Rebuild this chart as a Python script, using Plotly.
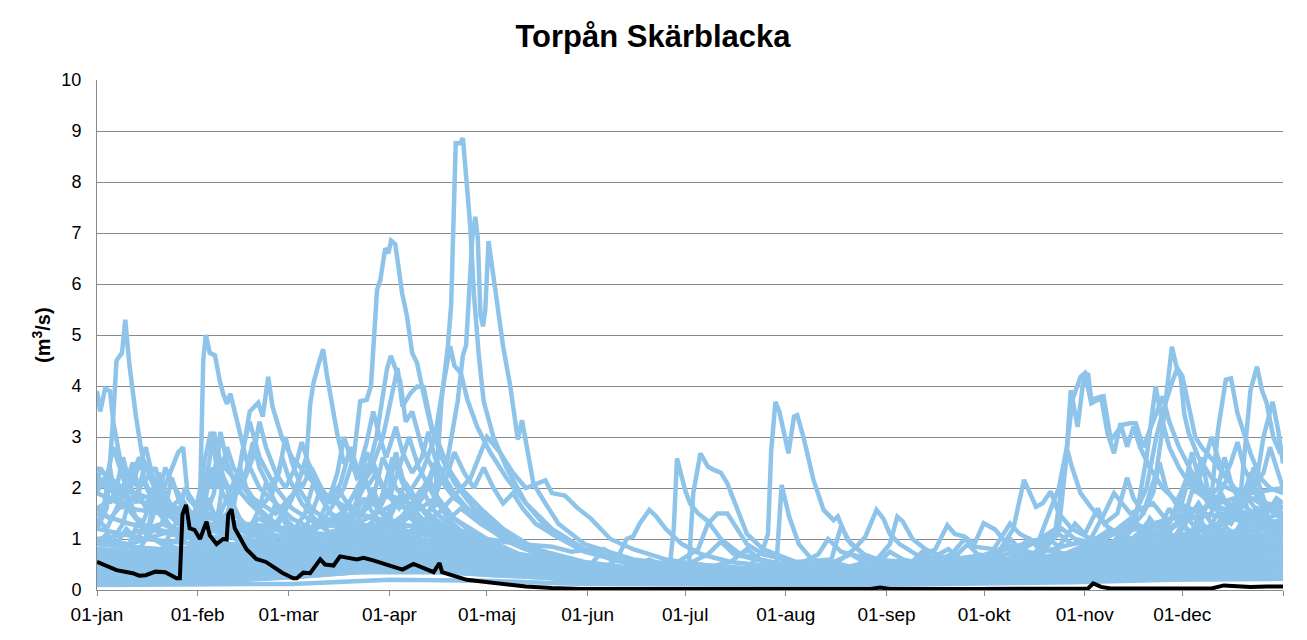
import plotly.graph_objects as go

# ---------------- data (day of year, discharge m3/s) ----------------
month_ticks = [0, 31, 59, 90, 120, 151, 181, 212, 243, 273, 304, 334]
month_labels = ["01-jan", "01-feb", "01-mar", "01-apr", "01-maj", "01-jun",
                "01-jul", "01-aug", "01-sep", "01-okt", "01-nov", "01-dec"]
year_end = [365]

s01 = [(0,1.2),(3,1.6),(5,3.4),(6,4.5),(7.7,4.65),(8.7,5.3),(10,4.4),(12,3.4),(14,2.6),(17,2.1),(21,1.6),(26,1.3),(33,1.1),(40,0.9),(50,0.8),(60,0.7),(70,0.9),(80,1.2),(90,1.0),(100,0.8),(115,0.6),(130,0.4),(150,0.3),(180,0.2),(210,0.2),(240,0.25),(270,0.3),(300,0.5),(330,0.7),(365,0.8)]
s02 = [(0,3.9),(1,3.5),(2.5,3.95),(4,3.9),(5,3.3),(7,2.6),(9,2.2),(12,1.8),(15,2.5),(17,2.2),(20,1.6),(25,1.3),(30,1.1),(40,1.0),(50,1.4),(55,1.2),(65,0.9),(80,0.8),(95,1.5),(100,1.2),(110,0.8),(130,0.5),(150,0.35),(180,0.25),(210,0.3),(240,0.3),(270,0.4),(300,0.9),(320,1.2),(340,1.6),(355,1.9),(365,2.0)]
s03 = [(0,0.6),(10,0.5),(20,0.5),(28,0.7),(31,1.5),(31.8,2.0),(32.7,4.5),(33.5,5.0),(34.7,4.65),(36.3,4.6),(37.8,4.1),(38.8,3.85),(40,3.65),(41,3.85),(42,3.6),(44,3.07),(46,2.55),(50,2.0),(55,1.7),(60,1.4),(66,1.2),(72,1.4),(80,1.1),(90,0.9),(100,0.7),(115,0.55),(130,0.4),(160,0.25),(190,0.2),(220,0.25),(250,0.3),(280,0.35),(310,0.5),(340,0.6),(365,0.7)]
s04 = [(0,1.0),(10,0.9),(20,1.1),(30,1.3),(38,1.5),(44,2.4),(47,3.5),(49.6,3.67),(51,3.4),(52.7,4.18),(54,3.6),(57,2.97),(60,2.6),(64,2.3),(68,2.0),(72,1.8),(80,1.5),(90,1.3),(100,1.0),(110,0.8),(125,0.5),(140,0.35),(170,0.25),(200,0.2),(230,0.2),(260,0.25),(290,0.4),(320,0.8),(345,1.0),(365,1.1)]
s05 = [(0,0.5),(15,0.4),(30,0.5),(45,0.8),(55,1.2),(60,1.8),(63,2.3),(64.5,2.63),(65.6,3.64),(66.6,4.05),(68,4.39),(69.6,4.72),(70.8,4.2),(73.9,3.07),(76,2.48),(78,2.61),(80,2.2),(85,2.5),(88,2.0),(95,1.6),(100,1.3),(110,1.0),(120,0.7),(135,0.45),(160,0.3),(190,0.25),(220,0.3),(250,0.35),(280,0.4),(310,0.6),(340,0.8),(365,0.9)]
s06 = [(0,0.9),(15,0.8),(30,0.7),(45,0.8),(60,1.0),(70,1.4),(76,2.0),(79,2.6),(81,3.7),(83,3.73),(84.3,4.0),(86.2,5.89),(87.2,6.08),(88.7,6.7),(89.7,6.6),(90.5,6.85),(91.8,6.78),(93.9,5.82),(95.4,5.37),(97,4.65),(98.5,4.45),(100,3.99),(101.6,3.54),(103,3.14),(104.7,2.95),(108,2.4),(112,2.0),(118,1.6),(125,1.2),(135,0.8),(150,0.5),(170,0.35),(200,0.25),(230,0.3),(260,0.35),(290,0.5),(320,0.7),(345,0.9),(365,1.0)]
s07 = [(0,0.3),(20,0.3),(40,0.4),(60,0.7),(75,1.1),(82,2.0),(86,3.0),(89.2,4.32),(90.4,4.59),(92.3,4.3),(93.3,4.1),(95,3.3),(97,3.5),(100,2.8),(104,2.3),(110,1.8),(118,1.4),(125,1.1),(135,0.8),(150,0.5),(175,0.3),(200,0.2),(230,0.15),(260,0.2),(290,0.25),(320,0.4),(345,0.5),(365,0.55)]
s08 = [(0,0.4),(20,0.35),(40,0.5),(60,0.9),(75,1.5),(84,2.3),(88,3.0),(91,3.9),(92.5,4.35),(94,3.6),(96.5,3.86),(98.5,3.99),(100.5,3.98),(103,3.2),(106,2.6),(110,2.1),(116,1.6),(124,1.2),(135,0.8),(150,0.55),(175,0.35),(200,0.3),(230,0.25),(260,0.3),(290,0.4),(320,0.6),(345,0.7),(365,0.8)]
s09 = [(0,0.2),(20,0.2),(40,0.25),(60,0.3),(75,0.5),(90,0.8),(100,1.2),(104,1.8),(106,3.7),(108,4.8),(109,5.6),(110.4,8.76),(111.8,8.76),(112.6,8.86),(113.8,7.97),(114.9,7.1),(116,5.8),(117.5,4.6),(119,3.7),(122,3.0),(126,2.4),(132,1.7),(140,1.1),(150,0.75),(165,0.5),(185,0.35),(210,0.3),(240,0.3),(270,0.35),(300,0.4),(330,0.5),(365,0.6)]
s10 = [(0,0.5),(20,0.45),(40,0.5),(60,0.6),(80,0.9),(95,1.4),(104,1.8),(108,2.6),(111,3.7),(112.6,4.6),(113.6,4.8),(115.5,6.9),(116.4,7.32),(117.2,6.9),(118,5.4),(118.8,5.17),(119.5,5.5),(120.5,6.84),(123,5.69),(125,4.77),(127.2,3.99),(129.5,2.95),(130.8,3.33),(132,2.94),(134.3,2.09),(137.4,1.76),(142,1.3),(150,0.9),(165,0.6),(185,0.45),(210,0.4),(240,0.35),(270,0.4),(300,0.6),(330,0.7),(365,0.8)]
s11 = [(0,0.7),(20,0.6),(40,0.7),(60,0.9),(80,1.3),(95,1.8),(100,2.3),(104,3.0),(106,3.8),(108.7,4.78),(110,4.4),(112,4.25),(114,3.73),(117,3.2),(121,2.7),(126,2.2),(132,1.7),(140,1.2),(150,0.8),(165,0.5),(190,0.35),(220,0.3),(250,0.3),(280,0.4),(310,0.6),(340,0.8),(365,0.9)]
s12 = [(0,0.3),(30,0.3),(60,0.5),(90,0.9),(105,1.5),(115,2.2),(120,3.0),(124,2.7),(128,2.3),(132,2.0),(136,2.1),(138,2.15),(140,1.9),(144,1.85),(148,1.6),(152,1.4),(158,1.0),(165,0.8),(175,0.6),(190,0.45),(210,0.4),(240,0.4),(270,0.45),(300,0.5),(330,0.6),(365,0.7)]
s13 = [(0,0.4),(30,0.35),(60,0.5),(90,0.8),(110,0.7),(130,0.45),(150,0.3),(165,0.25),(176,0.3),(177.5,1.2),(178.5,2.58),(181,1.96),(182.5,1.7),(185,1.5),(188,1.35),(192,1.0),(198,0.7),(210,0.5),(230,0.4),(250,0.4),(270,0.45),(300,0.7),(330,0.9),(365,1.0)]
s14 = [(0,0.8),(20,0.7),(40,0.8),(60,1.1),(80,1.5),(100,1.2),(120,0.8),(140,0.5),(155,0.4),(160,0.6),(163,1.0),(165,1.05),(167,1.3),(170,1.57),(172,1.45),(175,1.2),(180,0.9),(186,0.7),(195,0.55),(210,0.45),(230,0.4),(250,0.45),(280,0.5),(310,0.7),(340,1.0),(365,1.1)]
s15 = [(0,0.25),(30,0.25),(60,0.35),(90,0.6),(110,0.5),(130,0.35),(150,0.25),(170,0.2),(182,0.3),(183.5,1.9),(185.7,2.68),(188,2.42),(190,2.35),(192,2.3),(194,2.09),(197,1.6),(200,1.1),(205,0.8),(215,0.55),(230,0.4),(250,0.35),(270,0.4),(300,0.5),(330,0.6),(365,0.6)]
s16 = [(0,0.35),(30,0.3),(60,0.4),(90,0.6),(110,0.5),(130,0.35),(150,0.25),(170,0.2),(190,0.25),(200,0.4),(205,0.8),(206.5,1.1),(207.5,2.74),(208.8,3.69),(210,3.5),(211.5,3.0),(212.8,2.68),(214.5,3.4),(215.5,3.43),(217.4,3.0),(220.5,2.16),(223.6,1.57),(226.7,1.37),(228,1.44),(231,0.98),(236,0.7),(245,0.5),(260,0.4),(280,0.45),(300,0.6),(330,0.7),(365,0.8)]
s17 = [(0,0.15),(30,0.15),(60,0.25),(90,0.4),(120,0.3),(150,0.2),(180,0.15),(200,0.2),(209,0.4),(210.7,2.06),(213,1.44),(216,0.9),(220,0.6),(230,0.4),(250,0.3),(270,0.3),(300,0.4),(330,0.5),(365,0.5)]
s18 = [(0,0.6),(30,0.5),(60,0.6),(90,0.7),(120,0.6),(150,0.45),(175,0.4),(185,0.8),(188,1.3),(191,1.5),(194,1.5),(197,1.2),(200,0.9),(205,0.7),(215,0.55),(226,0.6),(229,1.25),(232,0.9),(238,0.6),(250,0.5),(275,0.5),(300,0.6),(330,0.7),(365,0.75)]
s19 = [(0,0.3),(40,0.3),(80,0.5),(110,0.5),(140,0.35),(170,0.25),(200,0.25),(225,0.4),(233,0.8),(236.5,1.05),(239.9,1.57),(242,1.4),(244,1.1),(247,0.9),(252,0.7),(260,0.55),(275,0.45),(295,0.5),(320,0.6),(345,0.7),(365,0.75)]
s20 = [(0,0.5),(40,0.4),(80,0.6),(110,0.55),(140,0.4),(170,0.3),(200,0.3),(225,0.35),(240,0.6),(244,0.9),(246.3,1.44),(248,1.34),(251,1.0),(255,0.8),(262,0.6),(270,0.5),(285,0.55),(300,0.7),(320,0.9),(345,1.1),(365,1.2)]
s21 = [(0,0.2),(40,0.2),(80,0.35),(110,0.35),(140,0.25),(170,0.2),(200,0.2),(230,0.3),(250,0.5),(258,0.8),(261.7,1.27),(264,1.1),(267,1.05),(270,0.9),(272.9,1.31),(276.5,1.18),(280,0.9),(286,0.7),(295,0.6),(310,0.7),(330,0.8),(365,0.9)]
s22 = [(0,0.7),(30,0.6),(60,0.8),(90,1.0),(120,0.7),(150,0.45),(180,0.35),(210,0.3),(240,0.4),(265,0.5),(278,0.8),(282,1.2),(285.3,2.16),(287,1.9),(289,1.63),(291,1.7),(293.5,1.93),(296,1.5),(300,1.2),(306,1.0),(315,0.9),(330,0.9),(345,1.0),(365,1.1)]
s23 = [(0,1.9),(10,1.6),(20,1.5),(35,1.3),(50,1.1),(70,1.0),(90,1.1),(110,0.9),(130,0.6),(160,0.4),(190,0.35),(220,0.4),(250,0.5),(275,0.7),(290,1.0),(296,2.0),(298.5,2.8),(299.7,3.92),(301.8,3.2),(303.7,4.18),(305,4.25),(306,3.73),(309,3.79),(311,3.07),(313,2.68),(315,3.27),(317,2.81),(319,3.2),(321,2.8),(324,2.4),(328,2.0),(333,1.7),(340,1.5),(350,1.4),(365,1.3)]
s24 = [(0,0.6),(20,0.5),(40,0.6),(60,0.8),(80,1.0),(100,0.8),(130,0.5),(160,0.35),(190,0.3),(220,0.3),(250,0.4),(280,0.6),(295,1.2),(298,2.5),(300.2,3.73),(302.7,4.18),(304,4.25),(306,3.66),(309.8,3.79),(312,2.94),(315.6,3.24),(318,3.27),(319.7,3.27),(322,2.8),(326,3.5),(328,3.8),(330,3.3),(333,2.8),(337,2.3),(342,1.9),(350,1.6),(358,1.4),(365,1.3)]
s25 = [(0,0.4),(30,0.4),(60,0.5),(90,0.7),(120,0.5),(150,0.35),(180,0.25),(210,0.25),(240,0.3),(270,0.4),(290,0.6),(296,1.2),(298.6,2.75),(300,2.42),(302.7,1.9),(305.8,1.63),(311,1.24),(316,1.0),(320,1.3),(325,1.1),(332,0.9),(340,0.85),(350,0.8),(365,0.8)]
s26 = [(0,1.5),(10,1.3),(25,1.1),(40,0.9),(60,0.8),(80,1.0),(100,0.9),(120,0.6),(150,0.4),(180,0.3),(210,0.3),(240,0.35),(270,0.45),(300,0.7),(315,1.0),(322,1.5),(326,2.3),(328,3.2),(329.5,4.05),(330.8,4.77),(332.5,4.31),(333.5,4.18),(334.6,3.46),(336,3.07),(339,2.6),(343,2.2),(348,2.0),(355,1.8),(365,1.6)]
s27 = [(0,1.2),(15,1.0),(30,0.9),(50,0.8),(70,0.9),(90,1.0),(110,0.8),(130,0.5),(160,0.35),(190,0.3),(220,0.3),(250,0.35),(280,0.5),(305,0.8),(318,1.3),(323,2.0),(326,3.0),(328,3.5),(331,4.1),(332.5,4.35),(334,4.2),(336,3.6),(338,3.0),(340,2.8),(344,2.5),(350,2.0),(358,1.7),(365,1.5)]
s28 = [(0,0.8),(20,0.7),(40,0.6),(60,0.7),(80,0.9),(100,0.8),(120,0.55),(150,0.4),(180,0.3),(210,0.3),(240,0.35),(270,0.4),(300,0.6),(315,0.9),(320,1.5),(323,2.6),(325.8,3.99),(327.5,3.4),(330,2.8),(333,2.4),(337,2.0),(343,1.7),(350,1.5),(365,1.3)]
s29 = [(0,2.1),(10,1.8),(20,1.6),(35,1.4),(50,1.2),(70,1.1),(90,1.2),(110,1.0),(130,0.7),(160,0.45),(190,0.35),(220,0.35),(250,0.4),(280,0.55),(310,0.8),(330,1.2),(340,1.5),(343,1.83),(345,3.14),(347.4,4.12),(349,4.15),(351,3.46),(355,2.68),(358,2.2),(361,2.0),(365,1.9)]
s30 = [(0,2.4),(8,2.0),(16,1.8),(30,1.5),(45,1.3),(60,1.2),(80,1.3),(100,1.1),(120,0.8),(150,0.5),(180,0.35),(210,0.35),(240,0.4),(270,0.5),(300,0.7),(320,0.9),(335,1.1),(345,1.3),(352,1.9),(355,3.92),(357,4.38),(358.5,3.92),(360,3.66),(362,3.0),(364,2.7),(365,2.7)]
s31 = [(0,0.9),(20,0.8),(40,0.8),(60,0.9),(80,1.0),(100,0.9),(130,0.55),(160,0.35),(190,0.3),(220,0.3),(250,0.35),(280,0.45),(310,0.6),(330,0.9),(345,1.3),(352,1.6),(357,2.2),(359,3.0),(361.8,3.69),(363.5,3.14),(365,2.48)]
s32 = [(0,2.1),(4,2.0),(8,1.6),(12,2.3),(15,2.8),(18,2.0),(22,1.6),(26,1.8),(30,1.4),(35,1.2),(40,1.3),(45,1.0),(55,0.9),(65,1.1),(75,0.9),(85,1.8),(88,2.6),(92,2.0),(100,1.4),(110,1.0),(125,0.6),(145,0.4),(170,0.3),(200,0.25),(230,0.3),(260,0.35),(290,0.5),(320,0.7),(340,0.9),(365,1.1)]
s33 = [(0,1.6),(5,1.8),(10,2.2),(13,2.0),(18,2.4),(20,1.9),(25,2.7),(26.5,2.8),(28,1.8),(32,1.5),(36,3.1),(38,2.5),(42,2.2),(48,1.8),(55,1.5),(62,2.0),(66,1.6),(72,1.3),(80,1.1),(90,1.4),(95,2.1),(100,1.6),(108,1.2),(120,0.8),(135,0.55),(155,0.35),(180,0.25),(210,0.2),(240,0.25),(270,0.3),(300,0.45),(330,0.55),(365,0.6)]
s34 = [(0,0.3),(10,0.35),(20,0.4),(30,0.6),(33,2.5),(35,3.1),(36,2.7),(38,2.0),(41,1.6),(45,1.3),(50,1.1),(55,1.3),(58,1.1),(62,0.9),(70,0.8),(78,1.3),(82,1.8),(85,1.5),(90,1.1),(100,0.9),(110,0.7),(125,0.45),(150,0.3),(180,0.2),(210,0.18),(240,0.2),(270,0.25),(300,0.3),(330,0.4),(365,0.45)]
s35 = [(0,0.7),(10,0.6),(20,0.8),(25,1.4),(27,2.0),(30,1.7),(34,1.3),(40,1.0),(45,2.8),(47,3.3),(50,2.6),(55,2.0),(60,1.6),(65,1.4),(70,1.2),(76,1.5),(80,2.0),(84,2.5),(88,2.0),(95,1.6),(100,1.8),(104,2.5),(108,2.0),(115,1.5),(125,1.0),(140,0.6),(160,0.4),(190,0.3),(220,0.3),(250,0.35),(280,0.4),(310,0.6),(340,0.7),(365,0.8)]
s36 = [(0,0.4),(10,0.5),(15,1.0),(18,1.6),(21,2.4),(24,2.0),(30,1.4),(40,1.1),(50,0.9),(60,0.8),(70,0.7),(75,0.9),(79,1.5),(83,2.7),(86,2.2),(90,1.8),(96,3.0),(99,2.4),(104,1.8),(110,1.4),(120,1.0),(130,0.7),(145,0.45),(165,0.3),(190,0.22),(220,0.2),(250,0.22),(280,0.3),(310,0.4),(340,0.5),(365,0.55)]
s37 = [(0,0.15),(20,0.15),(40,0.2),(60,0.25),(80,0.35),(100,0.4),(120,0.3),(150,0.2),(180,0.15),(210,0.12),(240,0.12),(270,0.15),(300,0.2),(330,0.25),(365,0.3)]
s38 = [(0,0.25),(15,0.22),(30,0.3),(50,0.4),(70,0.5),(85,0.7),(100,0.6),(115,0.45),(135,0.3),(160,0.2),(190,0.18),(220,0.15),(250,0.2),(280,0.22),(310,0.3),(340,0.35),(365,0.4)]
s39 = [(0,1.0),(10,1.1),(20,1.3),(30,1.0),(40,1.5),(44,2.2),(48,1.7),(55,1.3),(60,1.8),(64,2.5),(68,1.9),(72,1.5),(80,1.2),(90,1.0),(105,1.2),(112,1.6),(118,1.3),(128,0.9),(140,0.6),(160,0.4),(185,0.3),(215,0.25),(245,0.3),(275,0.35),(305,0.5),(335,0.7),(365,0.85)]
s40 = [(0,0.5),(20,0.45),(40,0.5),(60,0.6),(80,0.8),(100,0.7),(120,0.5),(150,0.35),(180,0.25),(210,0.25),(240,0.3),(270,0.4),(290,0.5),(305,0.9),(310,1.5),(313,1.9),(318,1.5),(325,1.7),(330,1.3),(336,2.3),(339,2.0),(343,1.6),(348,2.2),(352,1.7),(358,1.4),(365,1.2)]
s41 = [(0,0.3),(30,0.25),(60,0.35),(90,0.5),(120,0.4),(150,0.25),(180,0.2),(210,0.2),(240,0.25),(270,0.3),(300,0.5),(315,0.8),(322,1.2),(328,1.0),(335,1.5),(340,2.6),(342,1.9),(347,1.4),(353,1.8),(356,2.4),(360,1.6),(365,1.4)]
s42 = [(0,0.1),(30,0.1),(60,0.12),(90,0.2),(120,0.18),(150,0.12),(180,0.1),(210,0.1),(240,0.1),(270,0.12),(300,0.15),(330,0.2),(365,0.22)]
s43 = [(0,1.9),(2,2.2),(4,1.7),(6,2.0),(8,2.6),(10,2.1),(12,1.7),(14,2.2),(16,1.9),(19,1.5),(22,1.3),(25,1.1),(28,1.2),(32,1.0),(36,0.9),(40,1.1),(45,0.9),(52,0.8),(60,0.7),(68,0.9),(75,1.2),(80,1.0),(88,1.3),(92,1.8),(96,1.5),(102,1.1),(110,0.8),(122,0.55),(140,0.35),(165,0.25),(195,0.2),(225,0.2),(255,0.22),(285,0.3),(300,0.45),(310,0.7),(316,1.1),(320,0.9),(326,1.3),(331,1.0),(338,1.6),(341,1.2),(348,1.0),(355,1.3),(365,1.1)]
s44 = [(0,1.4),(3,1.2),(6,1.6),(9,2.0),(11,1.5),(14,1.3),(17,1.8),(19,2.3),(21,1.9),(24,1.5),(27,1.2),(30,1.0),(33,1.4),(36,1.9),(38,3.1),(40,2.5),(43,2.0),(47,1.7),(52,1.4),(56,1.2),(62,1.0),(68,1.3),(72,1.9),(75,1.6),(80,1.3),(86,1.1),(90,1.5),(94,1.9),(98,1.4),(105,1.0),(115,0.7),(130,0.45),(150,0.3),(175,0.22),(200,0.2),(230,0.18),(260,0.2),(290,0.3),(310,0.5),(320,0.8),(324,1.4),(328,1.1),(333,1.7),(337,1.3),(343,1.1),(350,1.5),(354,1.2),(360,1.0),(365,0.9)]
s45 = [(0,1.0),(4,0.9),(8,1.3),(10,1.8),(12,1.4),(16,1.1),(20,1.3),(23,2.2),(25,1.8),(28,1.4),(31,1.2),(35,1.5),(38,1.2),(42,1.6),(44,2.4),(46,2.0),(50,1.6),(54,1.9),(57,2.6),(59,2.2),(63,1.7),(67,1.4),(72,1.1),(78,0.9),(84,1.2),(88,1.9),(91,2.6),(94,2.1),(98,1.7),(102,2.2),(105,1.8),(110,1.4),(118,1.0),(128,0.7),(140,0.45),(160,0.3),(185,0.22),(215,0.2),(245,0.25),(275,0.3),(300,0.4),(320,0.55),(335,0.8),(345,1.2),(350,1.0),(358,1.3),(365,1.2)]
s46 = [(0,0.8),(5,0.7),(10,0.9),(13,1.4),(15,1.1),(20,0.9),(26,0.8),(32,0.9),(34,1.8),(36,1.5),(40,1.2),(46,1.0),(52,1.2),(55,1.7),(58,1.3),(65,1.0),(72,0.9),(78,1.1),(82,1.6),(85,2.0),(87,1.6),(92,1.3),(97,1.7),(100,2.0),(103,1.6),(108,1.3),(114,1.0),(124,0.7),(135,0.5),(150,0.35),(170,0.25),(200,0.2),(230,0.2),(260,0.25),(290,0.3),(305,0.5),(312,0.8),(318,0.7),(325,0.9),(333,1.1),(340,0.9),(347,1.2),(352,2.0),(354,1.6),(360,1.3),(365,1.2)]
s47 = [(0,0.6),(6,0.55),(12,0.5),(18,0.6),(24,0.5),(30,0.45),(36,0.6),(42,0.55),(50,0.6),(58,0.7),(66,0.8),(74,0.9),(82,1.0),(90,0.9),(98,0.8),(108,0.65),(120,0.5),(135,0.35),(150,0.25),(170,0.18),(190,0.15),(210,0.14),(230,0.15),(250,0.18),(270,0.2),(290,0.25),(310,0.3),(330,0.35),(350,0.4),(365,0.45)]
s48 = [(0,0.35),(8,0.3),(16,0.28),(24,0.3),(32,0.35),(40,0.3),(50,0.35),(60,0.45),(70,0.6),(80,0.75),(88,0.9),(95,0.8),(105,0.6),(115,0.45),(130,0.3),(145,0.2),(165,0.15),(190,0.12),(215,0.12),(240,0.14),(265,0.16),(290,0.2),(315,0.25),(340,0.3),(365,0.32)]
s49 = [(0,0.2),(10,0.18),(20,0.2),(30,0.22),(45,0.25),(60,0.3),(75,0.4),(90,0.5),(105,0.45),(120,0.35),(140,0.25),(160,0.18),(185,0.14),(210,0.13),(240,0.13),(270,0.15),(300,0.18),(330,0.22),(365,0.25)]
s50 = [(0,0.45),(20,0.4),(40,0.45),(60,0.55),(80,0.7),(100,0.65),(120,0.5),(140,0.35),(155,0.3),(165,0.45),(170,0.6),(175,0.45),(185,0.4),(195,0.55),(200,0.8),(204,0.6),(215,0.45),(225,0.5),(232,0.7),(236,0.55),(248,0.45),(256,0.6),(262,0.8),(266,0.6),(275,0.55),(283,0.8),(287,1.0),(290,0.8),(298,0.7),(305,0.9),(312,1.2),(316,1.0),(325,0.9),(335,1.1),(345,1.0),(355,0.9),(365,0.9)]
s51 = [(0,0.3),(20,0.3),(40,0.35),(60,0.4),(80,0.5),(100,0.55),(120,0.4),(140,0.3),(155,0.25),(162,0.4),(168,0.35),(178,0.3),(186,0.5),(190,0.4),(200,0.35),(210,0.3),(220,0.4),(226,0.55),(232,0.45),(240,0.4),(250,0.5),(254,0.75),(258,0.6),(268,0.5),(278,0.7),(281,1.0),(284,0.8),(292,0.65),(300,0.6),(308,0.8),(314,0.7),(322,0.75),(330,0.9),(338,0.8),(346,0.95),(356,0.85),(365,0.8)]
s52 = [(0,0.55),(20,0.5),(40,0.55),(60,0.65),(80,0.8),(100,0.75),(120,0.6),(140,0.45),(152,0.5),(156,0.8),(160,0.65),(170,0.5),(180,0.45),(188,0.7),(192,0.95),(196,0.7),(206,0.55),(216,0.5),(222,0.7),(225,1.0),(229,0.75),(238,0.6),(250,0.55),(264,0.65),(268,0.9),(271,0.7),(280,0.6),(290,0.75),(296,1.1),(300,0.9),(310,1.0),(318,1.4),(322,1.1),(330,1.2),(336,1.5),(342,1.2),(350,1.4),(358,1.2),(365,1.1)]
s53 = [(0,0.25),(30,0.25),(60,0.3),(90,0.45),(120,0.35),(150,0.25),(180,0.2),(210,0.25),(230,0.3),(240,0.5),(244,0.75),(248,0.6),(255,0.5),(263,0.7),(267,1.0),(270,0.85),(276,0.8),(281,1.3),(284,1.1),(290,0.9),(297,1.2),(301,1.0),(308,0.9),(316,0.85),(325,0.8),(340,0.75),(355,0.7),(365,0.7)]
s54 = [(0,0.6),(20,0.6),(40,0.7),(60,0.9),(80,1.1),(100,1.3),(110,1.2),(120,1.0),(130,0.9),(140,0.85),(146,0.75),(152,0.8),(158,0.6),(165,0.5),(175,0.45),(185,0.5),(195,0.45),(205,0.4),(220,0.35),(240,0.35),(260,0.4),(280,0.45),(300,0.55),(320,0.7),(340,0.8),(365,0.85)]
s55 = [(0,1.3),(2,1.6),(4,2.4),(5,2.0),(7,1.7),(9,2.1),(11,2.5),(13,1.9),(15,1.6),(17,2.0),(19,1.7),(21,1.4),(24,1.6),(27,1.3),(30,1.5),(33,2.3),(35,2.0),(37,2.6),(39,2.2),(42,1.8),(45,2.1),(48,2.9),(50,2.4),(53,2.0),(56,2.3),(58,3.0),(60,2.5),(63,2.0),(66,2.4),(69,2.0),(72,1.7),(75,2.1),(78,2.8),(80,2.4),(83,2.0),(86,2.3),(89,1.9),(93,1.6),(97,1.9),(101,1.5),(106,1.2),(112,1.0),(120,0.75),(130,0.55),(145,0.4),(165,0.3),(190,0.25),(220,0.22),(250,0.25),(280,0.3),(300,0.4),(312,0.6),(318,1.0),(321,0.8),(327,1.2),(332,1.0),(339,1.7),(342,1.4),(346,1.9),(349,1.5),(354,1.8),(359,1.4),(365,1.5)]
s56 = [(0,0.9),(3,1.1),(6,0.9),(9,1.2),(12,1.0),(16,1.3),(18,1.9),(20,1.5),(23,1.2),(27,1.0),(30,1.1),(33,0.9),(37,1.4),(39,2.2),(41,1.8),(44,1.4),(47,1.2),(50,1.6),(52,2.1),(55,1.7),(58,1.4),(61,1.2),(64,1.5),(67,2.2),(69,1.8),(72,1.5),(76,1.3),(80,1.6),(82,2.3),(84,1.9),(87,1.6),(90,2.0),(92,2.7),(94,2.2),(97,1.8),(101,1.5),(105,1.7),(108,1.4),(113,1.1),(120,0.85),(130,0.6),(145,0.42),(165,0.3),(190,0.24),(220,0.2),(250,0.22),(280,0.28),(300,0.35),(310,0.5),(316,0.8),(320,0.65),(326,1.0),(330,0.8),(334,1.3),(337,1.1),(341,1.5),(344,1.2),(349,1.7),(352,1.3),(357,1.6),(361,1.2),(365,1.3)]
s57 = [(0,0.6),(5,0.55),(10,0.7),(15,0.65),(20,0.8),(25,1.0),(28,1.3),(30,1.1),(33,1.6),(35,2.4),(37,2.0),(40,2.8),(42,2.4),(45,2.1),(48,2.6),(50,3.3),(52,2.8),(55,2.3),(58,2.0),(61,2.4),(63,2.9),(65,2.5),(68,2.1),(71,1.8),(74,2.0),(77,1.7),(81,1.5),(85,1.7),(89,1.4),(94,1.2),(100,1.0),(110,0.8),(120,0.6),(135,0.42),(150,0.3),(175,0.22),(200,0.18),(230,0.18),(260,0.2),(290,0.25),(310,0.35),(325,0.5),(335,0.7),(345,0.9),(355,1.0),(365,0.9)]
s58 = [(0,0.45),(10,0.4),(20,0.45),(30,0.5),(40,0.6),(50,0.7),(56,0.9),(60,1.2),(63,1.0),(66,1.5),(69,2.0),(71,1.7),(74,2.3),(76,3.0),(78,2.6),(80,2.2),(83,2.9),(85,3.5),(87,3.0),(89,2.6),(92,3.2),(94,2.7),(97,2.3),(100,2.6),(102,3.1),(104,2.6),(107,2.2),(110,1.9),(114,1.6),(118,1.4),(124,1.1),(130,0.85),(140,0.6),(155,0.42),(175,0.3),(200,0.25),(230,0.22),(260,0.25),(290,0.3),(320,0.4),(345,0.5),(365,0.55)]
s59 = [(0,0.35),(15,0.35),(30,0.4),(45,0.45),(60,0.55),(75,0.7),(85,0.9),(92,1.2),(97,1.5),(101,1.9),(104,2.4),(107,2.1),(110,2.7),(113,2.3),(116,2.0),(119,2.4),(122,2.0),(125,1.7),(128,1.9),(131,1.6),(135,1.3),(140,1.1),(146,0.9),(152,0.75),(160,0.6),(170,0.5),(185,0.4),(200,0.35),(220,0.3),(245,0.3),(270,0.35),(300,0.4),(330,0.5),(365,0.55)]
s60 = [(0,0.8),(15,0.7),(30,0.75),(50,0.8),(70,0.9),(90,1.0),(110,0.8),(130,0.55),(150,0.4),(170,0.3),(190,0.28),(210,0.3),(230,0.35),(250,0.4),(265,0.5),(275,0.65),(280,0.9),(283,0.75),(288,0.7),(293,1.0),(296,0.85),(301,1.3),(304,1.1),(308,1.6),(310,1.3),(314,1.5),(317,2.2),(319,1.8),(322,1.5),(325,1.9),(327,2.5),(329,2.0),(332,1.7),(335,2.1),(337,2.7),(339,2.2),(342,1.8),(345,2.0),(347,2.6),(349,2.1),(352,1.8),(355,2.2),(357,1.8),(360,1.5),(363,1.7),(365,1.6)]
s61 = [(0,0.55),(20,0.5),(40,0.55),(60,0.6),(80,0.7),(100,0.65),(120,0.5),(140,0.38),(160,0.3),(180,0.25),(200,0.25),(220,0.28),(240,0.32),(260,0.38),(275,0.45),(285,0.6),(290,0.5),(296,0.75),(300,0.6),(306,0.9),(310,0.75),(315,1.1),(318,0.9),(323,1.3),(326,1.1),(330,1.6),(333,1.3),(337,1.1),(340,1.4),(343,1.9),(345,1.5),(349,1.3),(352,1.6),(355,2.3),(357,1.9),(360,1.5),(363,1.8),(365,1.7)]
s62 = [(0,0.4),(20,0.38),(40,0.42),(60,0.5),(80,0.6),(100,0.55),(120,0.42),(140,0.32),(160,0.25),(180,0.2),(200,0.2),(220,0.22),(240,0.25),(260,0.3),(280,0.38),(295,0.5),(300,0.45),(305,0.7),(308,0.6),(313,0.85),(317,0.7),(321,1.0),(325,0.85),(329,1.2),(332,1.0),(335,0.9),(338,1.3),(341,1.1),(345,1.5),(347,1.25),(350,1.1),(353,1.4),(356,1.2),(359,1.0),(362,1.3),(365,1.1)]
s63 = [(0,1.6),(4,1.4),(8,1.7),(12,1.4),(16,1.2),(22,1.1),(30,1.0),(40,0.9),(55,0.85),(70,0.95),(85,1.1),(100,1.0),(115,0.8),(135,0.55),(160,0.38),(190,0.3),(220,0.3),(250,0.35),(280,0.45),(300,0.6),(315,0.8),(325,1.1),(333,1.5),(336,2.2),(338,1.9),(341,2.6),(343,3.0),(345,2.6),(347,2.2),(349,2.5),(351,2.9),(353,2.4),(356,2.0),(359,2.3),(361,2.8),(363,2.4),(365,2.0)]
s64 = [(0,2.0),(1,2.4),(3,2.2),(5,2.8),(7,2.4),(9,2.0),(11,2.3),(13,2.6),(15,2.1),(17,1.8),(19,2.1),(21,1.8),(24,1.5),(27,1.3),(30,1.4),(34,1.2),(38,1.1),(42,1.3),(46,1.1),(52,1.0),(58,0.9),(65,0.85),(72,0.95),(80,1.1),(86,1.4),(90,1.2),(96,1.0),(104,0.85),(115,0.65),(130,0.45),(150,0.32),(175,0.25),(200,0.22),(230,0.22),(260,0.25),(290,0.35),(310,0.5),(325,0.7),(340,0.9),(352,1.2),(358,1.6),(361,1.3),(365,1.4)]

current_year = [(0,0.55),(6,0.39),(11,0.33),(13,0.28),(15,0.29),(18,0.36),(21,0.35),(24.5,0.23),(25.5,0.23),(26.3,1.48),(27.4,1.67),(28.5,1.21),(30,1.18),(31.7,1.0),(33.7,1.34),(34.7,1.07),(36.8,0.9),(38.8,1.0),(39.9,0.99),(40.4,1.48),(41.4,1.58),(42.4,1.21),(46,0.8),(49,0.61),(52,0.55),(57,0.34),(60.4,0.23),(61.5,0.23),(63.5,0.34),(65.6,0.33),(68.7,0.6),(70.2,0.5),(72.8,0.48),(74.8,0.66),(80,0.6),(82,0.63),(85,0.58),(94,0.40),(97.4,0.51),(103.6,0.35),(105.4,0.53),(106.2,0.35),(113.8,0.2),(122,0.14),(132,0.07),(140,0.04),(149,0.02),(180,0.02),(220,0.02),(238,0.02),(241,0.05),(244,0.02),(270,0.02),(296,0.03),(302,0.04),(305,0.03),(306.6,0.13),(309,0.06),(312,0.03),(330,0.03),(343,0.03),(346.8,0.09),(350,0.08),(355,0.06),(360,0.07),(365,0.07)]

history_years = [s01, s02, s03, s04, s05, s06, s07, s08, s09, s10, s11, s12, s13, s14,
                 s15, s16, s17, s18, s19, s20, s21, s22, s23, s24, s25, s26, s27, s28,
                 s29, s30, s31, s32, s33, s34, s35, s36, s37, s38, s39, s40, s41, s42,
                 s43, s44, s45, s46, s47, s48, s49, s50, s51, s52, s53, s54, s55, s56,
                 s57, s58, s59, s60, s61, s62, s63, s64]

# ---------------- figure ----------------
FONT = "Liberation Sans, Arial, sans-serif"
BLUE = "#8EC4EA"
GRID = "#898989"
W, H = 1307, 640
OFF = 8  # page body offset of the rendered figure

fig = go.Figure()
for s in history_years:
    fig.add_trace(go.Scatter(x=[p[0] for p in s], y=[p[1] for p in s], mode="lines",
                             line=dict(color=BLUE, width=4.5), hoverinfo="skip",
                             showlegend=False))
fig.add_trace(go.Scatter(x=[p[0] for p in current_year], y=[p[1] for p in current_year],
                         mode="lines", line=dict(color="black", width=4),
                         showlegend=False))

fig.update_layout(
    width=W, height=H,
    margin=dict(l=97 - OFF, r=24 + OFF, t=80 - OFF, b=50 + OFF),
    paper_bgcolor="white", plot_bgcolor="white",
    font=dict(family=FONT, size=18, color="black"),
    title=dict(text="<b>Torpån Skärblacka</b>", x=(653 - OFF) / W, xanchor="center",
               y=1 - (36 - OFF) / H, yanchor="middle", yref="container",
               font=dict(family=FONT, size=31, color="black")),
    annotations=[dict(text="<b>(m<sup>3</sup>/s)</b>", textangle=-90,
                      xref="paper", yref="paper", x=(41 - 97) / 1186, y=0.5,
                      xanchor="center", yanchor="middle", showarrow=False,
                      font=dict(family=FONT, size=20, color="black"))],
)
fig.update_xaxes(range=[0, 365], tickmode="array", tickvals=month_ticks, ticktext=month_labels,
                 showgrid=False, zeroline=False, showline=True, linecolor=GRID, linewidth=1,
                 ticks="outside", ticklen=5, tickcolor=GRID, ticklabelstandoff=2,
                 minor=dict(tickmode="array", tickvals=year_end, ticks="outside",
                            ticklen=5, tickcolor=GRID, showgrid=False),
                 automargin=False,
                 tickfont=dict(family=FONT, size=19, color="black"))
fig.update_yaxes(range=[0, 10], dtick=1, tick0=0, showgrid=True, gridcolor=GRID, gridwidth=1,
                 zeroline=False, showline=True, linecolor=GRID, linewidth=1,
                 ticks="", ticklabelstandoff=11, automargin=False,
                 tickfont=dict(family=FONT, size=18, color="black"))

fig.write_html("out.html")
